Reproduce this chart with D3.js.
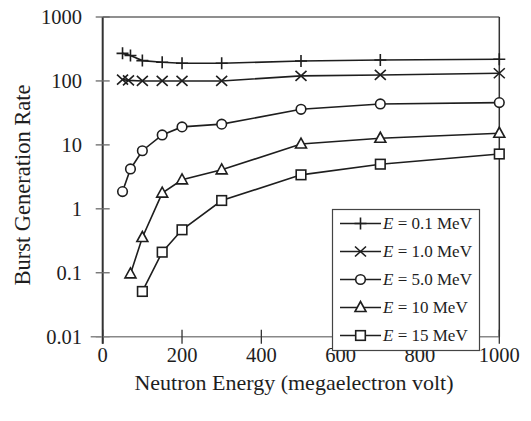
<!DOCTYPE html>
<html>
<head>
<meta charset="utf-8">
<script src="https://cdn.jsdelivr.net/npm/d3@7"></script>
<style>
  html, body { margin: 0; padding: 0; background: #fff; }
  svg { display: block; font-family: "Liberation Serif", "Times New Roman", serif; }
</style>
</head>
<body>
<svg id="chart" width="531" height="421"></svg>
<script>
// Burst generation rate vs. neutron energy, for several deposited energies E
const energies01 = [50, 70, 100, 150, 200, 300, 500, 700, 1000];
const rates01    = [270, 250, 208, 196, 189, 189, 205, 213, 218];

const energies1  = [50, 65, 100, 150, 200, 300, 500, 700, 1000];
const rates1     = [105, 102, 100, 100, 100, 100, 120, 124, 132];

const energies5  = [50, 70, 100, 150, 200, 300, 500, 700, 1000];
const rates5     = [1.86, 4.2, 8.1, 14.3, 19.1, 21.1, 36, 43.7, 45.8];

const energies10 = [70, 100, 150, 200, 300, 500, 700, 1000];
const rates10    = [0.096, 0.356, 1.76, 2.84, 4.07, 10.3, 12.7, 15.2];

const energies15 = [100, 150, 200, 300, 500, 700, 1000];
const rates15    = [0.051, 0.21, 0.47, 1.35, 3.4, 4.99, 7.2];

const seriesLabels = ["0.1 MeV", "1.0 MeV", "5.0 MeV", "10 MeV", "15 MeV"];
const markerKinds  = ["plus", "cross", "circle", "triangle", "square"];

const xTicks = [0, 200, 400, 600, 800, 1000];
const yTicks = [0.01, 0.1, 1, 10, 100, 1000];
const yTickLabels = ["0.01", "0.1", "1", "10", "100", "1000"];

const series = [
  { x: energies01, y: rates01 },
  { x: energies1,  y: rates1 },
  { x: energies5,  y: rates5 },
  { x: energies10, y: rates10 },
  { x: energies15, y: rates15 }
].map((s, i) => ({
  label: seriesLabels[i],
  kind: markerKinds[i],
  points: s.x.map((v, j) => [v, s.y[j]])
}));

const svg = d3.select("#chart");
const plot = { left: 102.7, right: 499.3, top: 17, bottom: 336.7 };

const x = d3.scaleLinear().domain([0, 1000]).range([plot.left, plot.right]);
const y = d3.scaleLog().domain([0.01, 1000]).range([plot.bottom, plot.top]);

const ink = "#1e1e1e";
const axisGray = "#6a6a6a";

// Frame (top and right edges)
svg.append("line").attr("x1", plot.left).attr("x2", plot.right)
  .attr("y1", plot.top).attr("y2", plot.top)
  .attr("stroke", axisGray).attr("stroke-width", 1.5);
svg.append("line").attr("x1", plot.right).attr("x2", plot.right)
  .attr("y1", plot.top).attr("y2", plot.bottom)
  .attr("stroke", "#333").attr("stroke-width", 1.5);

// Y axis with ticks crossing the line
const yAxis = svg.append("g");
yAxis.append("line").attr("x1", plot.left).attr("x2", plot.left)
  .attr("y1", plot.top).attr("y2", plot.bottom + 7)
  .attr("stroke", "#333").attr("stroke-width", 2);
yAxis.selectAll("line.tick").data(yTicks).join("line").attr("class", "tick")
  .attr("x1", plot.left - 7).attr("x2", plot.left + 7)
  .attr("y1", d => y(d)).attr("y2", d => y(d))
  .attr("stroke", axisGray).attr("stroke-width", 1.3);
yAxis.selectAll("text").data(yTicks).join("text")
  .attr("x", 82).attr("y", d => y(d)).attr("dy", "0.35em")
  .attr("text-anchor", "end").attr("font-size", 20.5).attr("fill", ink)
  .text((d, i) => yTickLabels[i]);

// X axis with ticks crossing the line
const xAxis = svg.append("g");
xAxis.append("line").attr("x1", plot.left - 12).attr("x2", plot.right)
  .attr("y1", plot.bottom).attr("y2", plot.bottom)
  .attr("stroke", "#888").attr("stroke-width", 1.5);
xAxis.selectAll("line.tick").data(xTicks).join("line").attr("class", "tick")
  .attr("x1", d => x(d)).attr("x2", d => x(d))
  .attr("y1", plot.bottom - 7).attr("y2", plot.bottom + 7)
  .attr("stroke", "#333").attr("stroke-width", 1.3);
xAxis.selectAll("text").data(xTicks).join("text")
  .attr("x", d => x(d)).attr("y", 362)
  .attr("text-anchor", "middle").attr("font-size", 20.5).attr("fill", ink)
  .text(d => d);

// Axis titles
svg.append("text").attr("x", 294).attr("y", 390)
  .attr("text-anchor", "middle").attr("font-size", 22).attr("fill", ink)
  .text("Neutron Energy (megaelectron volt)");
svg.append("text")
  .attr("transform", "translate(30,185) rotate(-90)")
  .attr("text-anchor", "middle").attr("font-size", 22.5).attr("fill", ink)
  .text("Burst Generation Rate");

// Marker shapes
function drawMarker(g, kind, cx, cy) {
  const common = sel => sel.attr("stroke", ink).attr("stroke-width", 1.6);
  if (kind === "plus") {
    common(g.append("path").attr("fill", "none")
      .attr("d", `M${cx - 6},${cy}H${cx + 6}M${cx},${cy - 6}V${cy + 6}`));
  } else if (kind === "cross") {
    common(g.append("path").attr("fill", "none")
      .attr("d", `M${cx - 5.5},${cy - 5}L${cx + 5.5},${cy + 5}M${cx - 5.5},${cy + 5}L${cx + 5.5},${cy - 5}`));
  } else if (kind === "circle") {
    common(g.append("circle").attr("cx", cx).attr("cy", cy).attr("r", 4.8).attr("fill", "#fff"));
  } else if (kind === "triangle") {
    common(g.append("path").attr("fill", "#fff")
      .attr("d", `M${cx},${cy - 6}L${cx + 5.5},${cy + 4}L${cx - 5.5},${cy + 4}Z`));
  } else if (kind === "square") {
    common(g.append("rect").attr("x", cx - 4.8).attr("y", cy - 4.8)
      .attr("width", 9.6).attr("height", 9.6).attr("fill", "#fff"));
  }
}

// Series lines and markers
const line = d3.line().x(d => x(d[0])).y(d => y(d[1]));
series.forEach(s => {
  const g = svg.append("g");
  g.append("path").datum(s.points).attr("d", line)
    .attr("fill", "none").attr("stroke", ink).attr("stroke-width", 1.6);
  s.points.forEach(p => drawMarker(g, s.kind, x(p[0]), y(p[1])));
});

// Legend
const legend = svg.append("g");
legend.append("rect").attr("x", 332.5).attr("y", 209.5)
  .attr("width", 147).attr("height", 141)
  .attr("fill", "#fff").attr("stroke", "#444").attr("stroke-width", 1.2);
series.forEach((s, i) => {
  const ry = 223.5 + i * 28;
  const g = legend.append("g");
  g.append("line").attr("x1", 340).attr("x2", 381).attr("y1", ry).attr("y2", ry)
    .attr("stroke", ink).attr("stroke-width", 1.6);
  drawMarker(g, s.kind, 360.5, ry);
  const t = g.append("text").attr("x", 383).attr("y", ry).attr("dy", "0.35em")
    .attr("font-size", 17).attr("fill", ink);
  t.append("tspan").attr("font-style", "italic").text("E");
  t.append("tspan").text(" = " + s.label);
});
</script>
</body>
</html>
